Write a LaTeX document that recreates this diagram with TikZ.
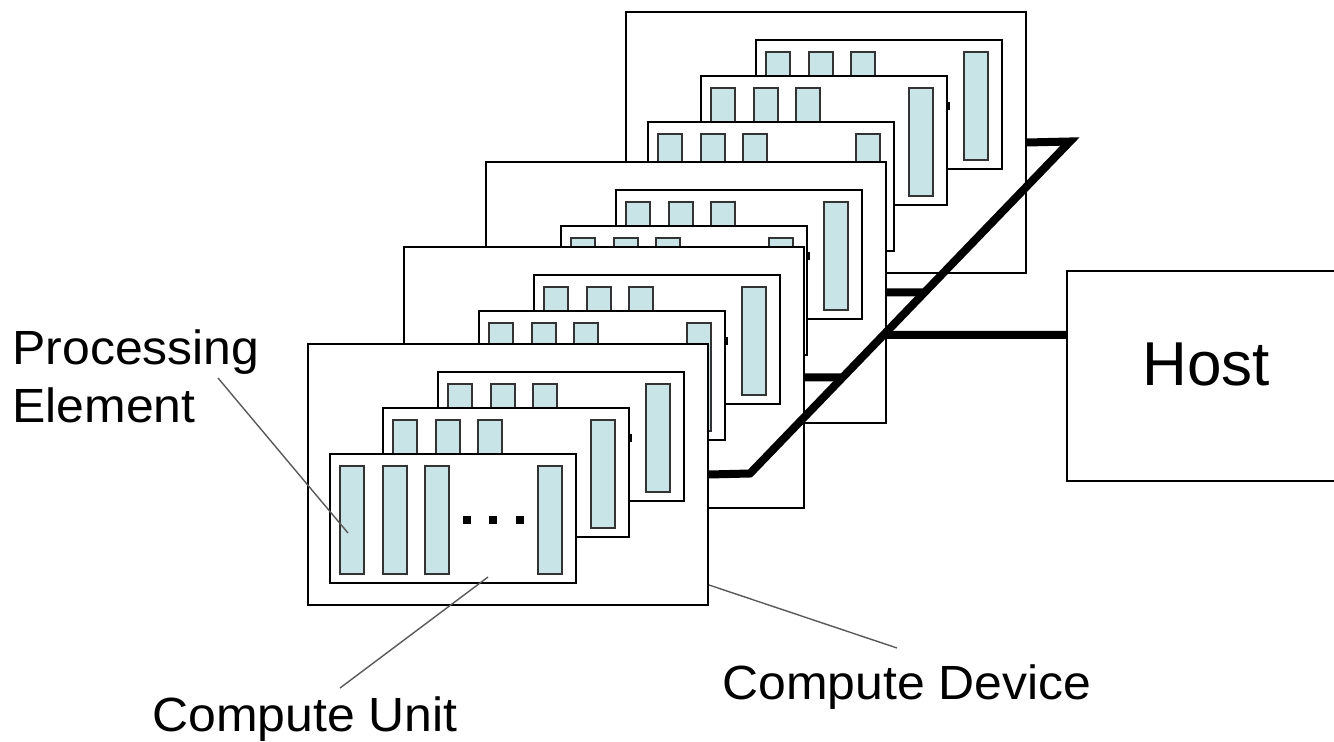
\documentclass[tikz,border=0pt]{standalone}
\usepackage{fontspec}
\setmainfont{Liberation Sans}
\newfontfamily\lblfont[FakeStretch=1.04]{Liberation Sans}
\usetikzlibrary{calc,intersections}

\definecolor{peblue}{RGB}{200,228,231}

\tikzset{
  device/.style={draw, fill=white, line width=1pt, anchor=north west, inner sep=0pt,
                 minimum width=200pt, minimum height=130.5pt},
  unit/.style={draw, fill=white, line width=1pt, anchor=north west, inner sep=0pt,
               minimum width=123pt, minimum height=64.5pt},
  pe/.style={draw=black!80, fill=peblue, line width=0.9pt},
  bus/.style={line width=4pt},
  leader/.style={draw=black!65, line width=0.7pt},
  lbl/.style={font=\lblfont\fontsize{24}{29}\selectfont, inner sep=0pt, align=left},
}

% compute unit: name, x, y (coin haut gauche, en px)
\newcommand{\unitbox}[3]{%
  \node[unit] (#1) at (#2,#3) {};
  \foreach \px in {11,54,96,209}
    \draw[pe, shift={(#2,#3)}] (\px,13) rectangle ++(24,108);
  \foreach \px in {134,160,187}
    \fill[shift={(#2,#3)}] (\px,63) rectangle ++(8,8);
}

% compute device avec trois compute units
\newcommand{\devicebox}[3]{%
  \node[device] (#1) at (#2,#3) {};
  \begin{scope}[shift={(#2,#3)}]
    \unitbox{#1-cu3}{130}{28}
    \unitbox{#1-cu2}{75}{64}
    \unitbox{#1-cu1}{22}{110}
  \end{scope}
}

\begin{document}
\begin{tikzpicture}[x=0.5pt, y=-0.5pt]

    \useasboundingbox (0,0) rectangle (1334,742);
    \clip (0,0) rectangle (1334,742);

    % devices, de l'arriere vers l'avant
    \devicebox{dev4}{625}{11}
    \devicebox{dev3}{485}{161}
    \devicebox{dev2}{403}{246}
    \devicebox{dev1}{307}{343}

    % host
    \node[draw, line width=1.2pt, anchor=north west, inner sep=0pt,
          minimum width=140pt, minimum height=105pt] (host) at (1066,270) {};
    \node[font=\fontsize{31}{37}\selectfont, inner sep=0pt] (hostlbl) at (1206,364) {Host};
    \coordinate (hostport) at ($(host.north west)+(0,65)$);

    % bus
    \coordinate (bustop) at (1070,141.5);
    \coordinate (busbot) at (750,473.5);
    \draw[bus, name path=diag] (dev4.east) -- (bustop) -- (busbot) -- (dev1.east);
    \path[name path=tap3] (dev3.east) -- ++(300,0);
    \path[name path=tap2] (dev2.east) -- ++(300,0);
    \path[name path=taph] (hostport) -- ++(-400,0);
    \draw[bus, name intersections={of=diag and tap3}] (dev3.east) -- (intersection-1);
    \draw[bus, name intersections={of=diag and tap2}] (dev2.east) -- (intersection-1);
    \draw[bus, name intersections={of=diag and taph}] (intersection-1) -- (hostport);

    % labels
    \node[lbl, anchor=base west] (pelabel) at (12,423) {Processing\\Element};
    \node[lbl, anchor=base west] (culabel) at (152,732) {Compute Unit};
    \node[lbl, anchor=base west] (cdlabel) at (722,700) {Compute Device};

    % traits de rappel
    \coordinate (pe-from) at (218,378);
    \coordinate (pe-to) at ($(dev1-cu1.north west)+(19,80)$);
    \coordinate (cu-from) at (340,688);
    \coordinate (cu-to) at ($(dev1-cu1.south west)+(159,-7)$);
    \coordinate (cd-from) at (897,648);
    \coordinate (cd-to) at ($(dev1.south east)+(0,-21)$);
    \draw[leader] (pe-from) -- (pe-to);
    \draw[leader] (cu-from) -- (cu-to);
    \draw[leader] (cd-from) -- (cd-to);

\end{tikzpicture}
\end{document}
